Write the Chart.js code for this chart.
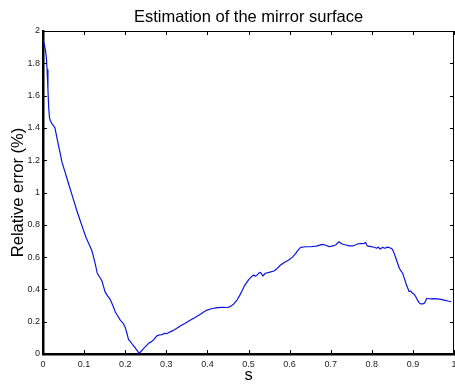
<!DOCTYPE html>
<html>
<head>
<meta charset="utf-8">
<script src="https://cdn.jsdelivr.net/npm/chart.js@4"></script>
<style>
  html, body { margin: 0; padding: 0; background: #fff; }
  #wrap { width: 455px; height: 385px; }
</style>
</head>
<body>
<div id="wrap"><canvas id="grafik" width="455" height="385"></canvas></div>
<script>
// data
const sValues = [
  0.000, 0.003, 0.006, 0.008, 0.010, 0.012, 0.014, 0.016, 0.019, 0.022, 0.025, 0.029, 0.033, 0.037, 0.042, 0.046,
  0.052, 0.058, 0.064, 0.070, 0.076, 0.082, 0.090, 0.098, 0.105, 0.112, 0.119, 0.123, 0.127, 0.132, 0.137,
  0.143, 0.147, 0.151, 0.157, 0.163, 0.170, 0.176, 0.182, 0.188, 0.195, 0.200, 0.204, 0.208, 0.212, 0.216,
  0.222, 0.228, 0.234, 0.240, 0.245, 0.251, 0.257, 0.263, 0.269, 0.273, 0.277, 0.283, 0.290, 0.296, 0.300,
  0.304, 0.312, 0.320, 0.334, 0.346, 0.359, 0.371, 0.383, 0.391, 0.399, 0.410, 0.424, 0.437, 0.448, 0.452,
  0.458, 0.464, 0.472, 0.478, 0.484, 0.489, 0.495, 0.501, 0.507, 0.513, 0.517, 0.521, 0.525, 0.529, 0.532,
  0.535, 0.541, 0.550, 0.562, 0.570, 0.578, 0.588, 0.598, 0.607, 0.615, 0.621, 0.627, 0.640, 0.651, 0.665,
  0.680, 0.690, 0.696, 0.705, 0.712, 0.716, 0.720, 0.724, 0.728, 0.737, 0.745, 0.753, 0.760, 0.765, 0.773,
  0.781, 0.785, 0.789, 0.798, 0.806, 0.812, 0.816, 0.820, 0.826, 0.832, 0.838, 0.844, 0.850, 0.855, 0.859,
  0.863, 0.867, 0.871, 0.875, 0.879, 0.883, 0.887, 0.891, 0.895, 0.899, 0.903, 0.907, 0.911, 0.915, 0.919,
  0.924, 0.928, 0.930, 0.934, 0.940, 0.944, 0.950, 0.960, 0.968, 0.976, 0.985, 0.993
];
const errorValues = [
  1.95, 1.92, 1.88, 1.84, 1.76, 1.64, 1.52, 1.46, 1.44, 1.425, 1.415, 1.40, 1.35, 1.30, 1.24, 1.19,
  1.14, 1.09, 1.04, 0.99, 0.94, 0.89, 0.83, 0.77, 0.72, 0.68, 0.64, 0.60, 0.56, 0.50, 0.48,
  0.455, 0.42, 0.385, 0.36, 0.34, 0.30, 0.26, 0.235, 0.21, 0.19, 0.165, 0.13, 0.09, 0.08, 0.065,
  0.045, 0.025, 0.004, 0.02, 0.035, 0.05, 0.066, 0.075, 0.087, 0.10, 0.112, 0.118, 0.12, 0.128, 0.126,
  0.13, 0.14, 0.15, 0.173, 0.19, 0.21, 0.228, 0.246, 0.26, 0.272, 0.28, 0.287, 0.289, 0.288, 0.29,
  0.298, 0.31, 0.334, 0.36, 0.39, 0.417, 0.44, 0.462, 0.478, 0.489, 0.482, 0.49, 0.50, 0.506, 0.495,
  0.483, 0.50, 0.505, 0.514, 0.53, 0.551, 0.568, 0.582, 0.60, 0.623, 0.645, 0.66, 0.664, 0.664, 0.668,
  0.679, 0.672, 0.664, 0.670, 0.675, 0.685, 0.695, 0.688, 0.681, 0.675, 0.670, 0.669, 0.675, 0.681, 0.683,
  0.685, 0.690, 0.669, 0.665, 0.661, 0.655, 0.662, 0.650, 0.660, 0.655, 0.662, 0.658, 0.648, 0.62, 0.59,
  0.56, 0.531, 0.515, 0.50, 0.47, 0.438, 0.41, 0.386, 0.39, 0.376, 0.37, 0.355, 0.335, 0.318, 0.31,
  0.31, 0.315, 0.324, 0.345, 0.342, 0.341, 0.343, 0.341, 0.338, 0.334, 0.328, 0.324
];
const xTicks = [0, 0.1, 0.2, 0.3, 0.4, 0.5, 0.6, 0.7, 0.8, 0.9, 1];
const yTicks = [0, 0.2, 0.4, 0.6, 0.8, 1, 1.2, 1.4, 1.6, 1.8, 2];

const judul = "Estimation of the mirror surface";
const fontName = "'Liberation Sans', Arial, Helvetica, sans-serif";

const titik = sValues.map((s, i) => ({ x: s, y: errorValues[i] }));
const labelAngka = v => String(+v.toFixed(1));

// matlab style box: thin top/right edge, ticks pointing inward on all sides
const kotakMatlab = {
    id: "kotakMatlab",
    afterDraw(chart) {
        const { ctx, chartArea: a, scales } = chart;
        ctx.save();
        ctx.strokeStyle = "#000";
        ctx.lineWidth = 1;
        ctx.beginPath();
        ctx.moveTo(a.left, a.top + 0.5);
        ctx.lineTo(a.right - 0.5, a.top + 0.5);
        ctx.lineTo(a.right - 0.5, a.bottom);
        ctx.stroke();

        ctx.beginPath();
        xTicks.forEach(v => {
            const px = Math.round(scales.x.getPixelForValue(v)) + 0.5;
            ctx.moveTo(px, a.bottom);
            ctx.lineTo(px, a.bottom - 4);
            ctx.moveTo(px, a.top);
            ctx.lineTo(px, a.top + 4);
        });
        yTicks.forEach(v => {
            const py = Math.round(scales.y.getPixelForValue(v)) + 0.5;
            ctx.moveTo(a.left, py);
            ctx.lineTo(a.left + 4, py);
            ctx.moveTo(a.right, py);
            ctx.lineTo(a.right - 4, py);
        });
        ctx.stroke();

        // title centred over the axes box
        ctx.fillStyle = "#000";
        ctx.font = "16.5px " + fontName;
        ctx.textAlign = "center";
        ctx.textBaseline = "middle";
        ctx.fillText(judul, (a.left + a.right) / 2, 17);
        ctx.restore();
    }
};

const ctx = document.getElementById("grafik").getContext("2d");
new Chart(ctx, {
    type: "line",
    data: {
        datasets: [{
            data: titik,
            borderColor: "#0a14e0",
            borderWidth: 1.2,
            borderJoinStyle: "round",
            pointRadius: 0,
            tension: 0,
            fill: false
        }]
    },
    options: {
        responsive: false,
        animation: false,
        layout: { padding: { left: 0, right: 1, top: 31, bottom: 0 } },
        plugins: {
            legend: { display: false },
            tooltip: { enabled: false },
            title: { display: false }
        },
        scales: {
            x: {
                type: "linear",
                min: 0,
                max: 1,
                afterBuildTicks: sc => { sc.ticks = xTicks.map(v => ({ value: v })); },
                afterFit: sc => { sc.height = 31; sc.paddingLeft = 0; sc.paddingRight = 0; },
                grid: { display: false, drawTicks: false },
                border: { display: true, color: "#000", width: 2.5 },
                ticks: {
                    color: "#222",
                    font: { family: fontName, size: 9 },
                    padding: 5,
                    maxRotation: 0,
                    autoSkip: false,
                    callback: labelAngka
                },
                title: {
                    display: true,
                    text: "s",
                    color: "#000",
                    font: { family: fontName, size: 16.5 },
                    padding: { top: 0, bottom: 0 }
                }
            },
            y: {
                min: 0,
                max: 2,
                afterBuildTicks: sc => { sc.ticks = yTicks.map(v => ({ value: v })); },
                afterFit: sc => { sc.width = 43; sc.paddingTop = 0; sc.paddingBottom = 0; },
                grid: { display: false, drawTicks: false },
                border: { display: true, color: "#000", width: 2.5 },
                ticks: {
                    color: "#222",
                    font: { family: fontName, size: 9 },
                    padding: 3,
                    autoSkip: false,
                    callback: labelAngka
                },
                title: {
                    display: true,
                    text: "Relative error (%)",
                    color: "#000",
                    font: { family: fontName, size: 16.5 },
                    padding: { top: 9, bottom: 0 }
                }
            }
        }
    },
    plugins: [kotakMatlab]
});
</script>
</body>
</html>
